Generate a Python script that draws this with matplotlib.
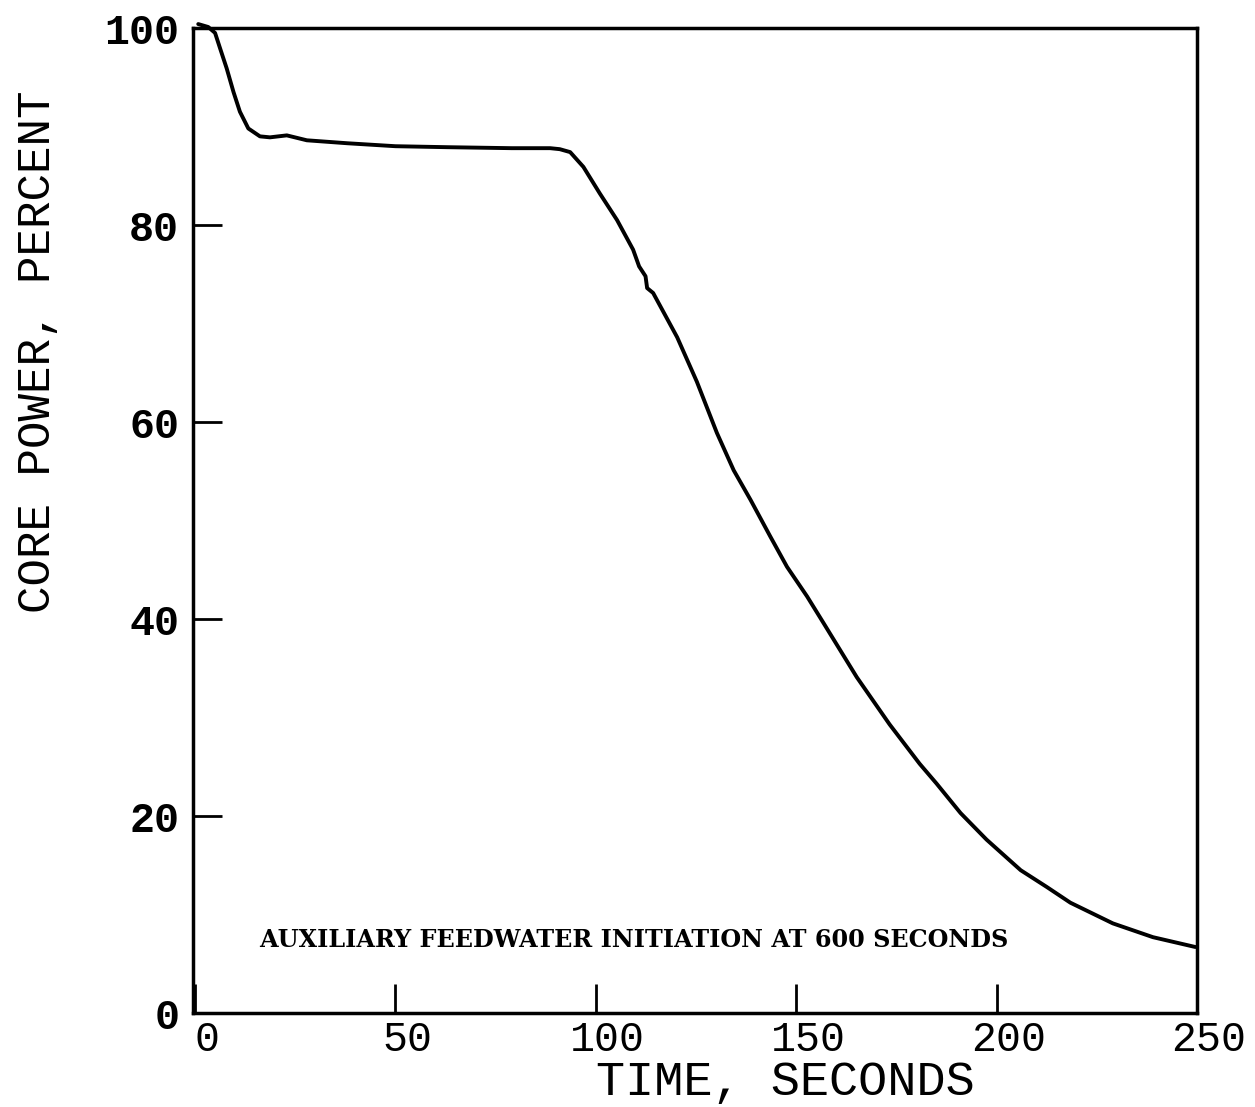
import numpy as np
import matplotlib.pyplot as plt
import matplotlib.transforms as mtransforms

# Core power vs time
time_s = [0.8, 3.3, 5, 6.2, 7.9, 9.6, 11.2, 13.3, 16.2, 18.7, 22.9, 27.9, 38,
          50, 63, 79, 88.6, 91, 93.6, 96.9, 101, 105.3, 109.3, 110.8, 112.4,
          112.8, 114.3, 120.3, 125.2, 130.2, 134.4, 138.6, 143.5, 147.7,
          152.7, 156.8, 165.1, 173.3, 180.8, 185, 191, 197.5, 206, 212.5,
          218.4, 229, 239, 249.6]
power_pct = [100.4, 100.1, 99.5, 98.0, 95.9, 93.5, 91.5, 89.8, 89.0, 88.9,
             89.1, 88.6, 88.3, 88.0, 87.9, 87.8, 87.8, 87.7, 87.4, 85.9, 83.2,
             80.5, 77.5, 75.8, 74.8, 73.6, 73.1, 68.6, 64.1, 58.9, 55.1, 52.1,
             48.4, 45.3, 42.3, 39.6, 34.1, 29.3, 25.3, 23.3, 20.3, 17.6, 14.5,
             12.8, 11.2, 9.1, 7.7, 6.7]

x_ticks = [0, 50, 100, 150, 200, 250]
y_ticks = [0, 20, 40, 60, 80, 100]

fig = plt.figure(figsize=(12.55, 11.07), dpi=100)
ax = fig.add_axes([0.1538, 0.0849, 0.8000, 0.8898])

ax.plot(time_s, power_pct, color='black', linewidth=2.8, clip_on=False,
        solid_joinstyle='round', solid_capstyle='round')

ax.set_xlim(-0.5, 250)
ax.set_ylim(0, 100)

ax.set_xticks(x_ticks)
ax.set_yticks(y_ticks)
ax.set_xticklabels([])
ax.set_yticklabels([str(v) for v in y_ticks], family='Liberation Mono', fontsize=30,
                   fontweight='bold')
ax.tick_params(axis='both', direction='in', length=21, width=2, color='black')
ax.tick_params(axis='y', pad=10)

# x tick labels sit a little right of their ticks on the original
trans = mtransforms.blended_transform_factory(ax.transData, ax.transAxes)
trans = trans + mtransforms.ScaledTranslation(0.12, 0, fig.dpi_scale_trans)
for v in x_ticks:
    ax.text(v, -0.007, str(v), transform=trans, ha='center', va='top',
            family='Liberation Mono', fontsize=30)

for s in ax.spines.values():
    s.set_linewidth(2.5)

ax.set_xlabel('TIME, SECONDS', family='Liberation Mono', fontsize=35)
ax.xaxis.set_label_coords(0.59, -0.048)
ax.set_ylabel('CORE POWER, PERCENT', family='Liberation Mono', fontsize=33)
ax.yaxis.set_label_coords(-0.1325, 0.671)

ax.text(16, 7.4, 'AUXILIARY FEEDWATER INITIATION AT 600 SECONDS',
        family='DejaVu Serif', fontweight='bold', fontsize=17.2, va='center')

fig.savefig('out.png', dpi=100)
